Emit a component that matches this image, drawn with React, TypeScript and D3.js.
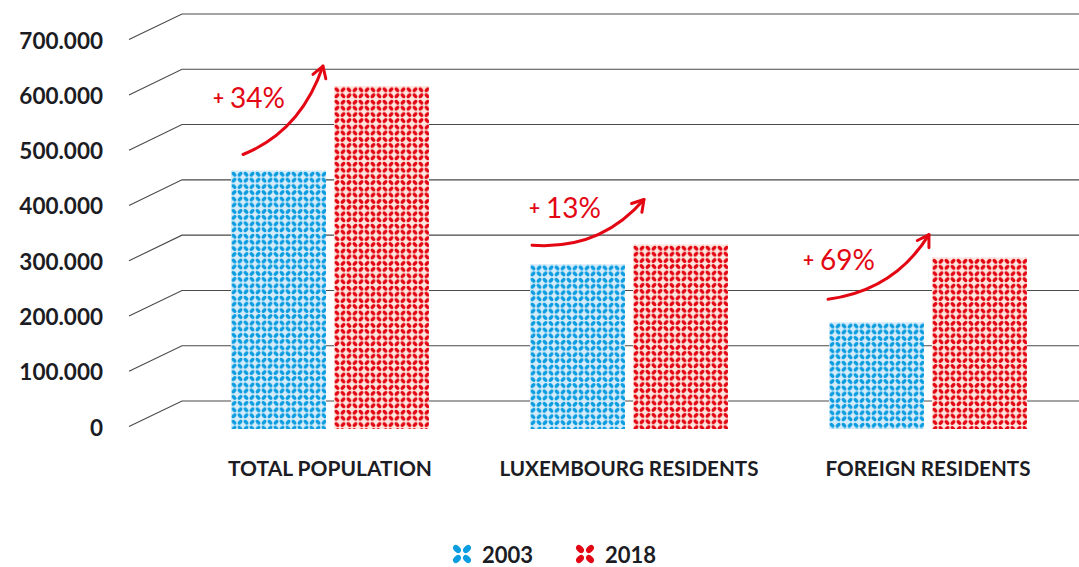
import React from 'react';
import * as d3 from 'd3';

const categories = ['TOTAL POPULATION', 'LUXEMBOURG RESIDENTS', 'FOREIGN RESIDENTS'];
const years = ['2003', '2018'];
const values2003 = [448000, 277000, 171000];
const values2018 = [602000, 313000, 289000];
const growthLabels = ['34%', '13%', '69%'];
const yTicks = [0, 100000, 200000, 300000, 400000, 500000, 600000, 700000];

// arrow geometry as offsets from the bars they link
const arrowOffsets = [
  { sdx: 12, sdy: -16, edx: -11, edy: -20, cx: 0.72, cy: 0.26, ldx: -30, ldy: -46 },
  { sdx: 2, sdy: -19, edx: 11, edy: -45, cx: 0.61, cy: -0.11, ldx: -3, ldy: -27 },
  { sdx: -1, sdy: -23, edx: -3, edy: -23, cx: 0.66, cy: 0.14, ldx: -25, ldy: -29 },
];

const W = 1079;
const H = 567;
const FONT = "Lato, 'Open Sans', sans-serif";
const RED = '#e30613';
const BLUE = '#0b9de0';
const colors: Record<string, { fg: string; bg: string }> = {
  '2003': { fg: BLUE, bg: '#d4ebfa' },
  '2018': { fg: RED, bg: '#fde5dd' },
};

const labelWidths = [204, 259, 205];

function Petals({ cx, cy, q, fill, rx, ry }: any) {
  const pts = [
    [-q, -q, 45],
    [q, -q, -45],
    [-q, q, -45],
    [q, q, 45],
  ];
  return (
    <g>
      {pts.map((p, i) => (
        <ellipse
          key={i}
          cx={cx + p[0]}
          cy={cy + p[1]}
          rx={rx}
          ry={ry}
          fill={fill}
          transform={`rotate(${p[2]} ${cx + p[0]} ${cy + p[1]})`}
        />
      ))}
    </g>
  );
}

export default function App() {
  const yGrid = d3.scaleLinear().domain([0, 700000]).range([401, 14]);
  const yBar = d3.scaleLinear().domain([0, 700000]).range([416, 32.4]);
  const barBottom = yBar(0) + 13;

  const x0 = d3.scaleBand<string>().domain(categories).range([180.5, 1077.5]).paddingInner(0.338).paddingOuter(0.169);
  const x1 = d3.scaleBand<string>().domain(years).range([0, x0.bandwidth()]).paddingInner(0.077);

  const fmt = (v: number) => d3.format(',')(v).replace(/,/g, '.');

  const tileW = 12;
  const tileH = 12.4;

  const bars: any[] = [];
  categories.forEach((c, i) => {
    years.forEach((yr) => {
      const v = yr === '2003' ? values2003[i] : values2018[i];
      bars.push({ c, i, yr, v, x: (x0(c) as number) + (x1(yr) as number), y: yBar(v), w: x1.bandwidth() });
    });
  });

  return (
    <svg width={W} height={H} style={{ position: 'absolute', left: 0, top: 0, background: '#fff' }}>
      <defs>
        {bars.map((b, k) => (
          <pattern
            key={k}
            id={`pat${k}`}
            patternUnits="userSpaceOnUse"
            x={b.x}
            y={b.y + 0.5}
            width={tileW}
            height={tileH}
          >
            <rect width={tileW} height={tileH} fill={colors[b.yr].bg} />
            <Petals cx={tileW / 2} cy={tileH / 2} q={3} fill={colors[b.yr].fg} rx={2.8} ry={1.75} />
          </pattern>
        ))}
      </defs>

      {/* grid */}
      {yTicks.map((t) => {
        const y = yGrid(t);
        return (
          <g key={t}>
            <path
              d={`M129,${y + 25.6} L182,${y} L${W},${y}`}
              fill="none"
              stroke="#4a4a4a"
              strokeWidth={1.1}
            />
            <text
              x={103}
              y={y + 34.5}
              textAnchor="end"
              fontFamily={FONT}
              fontWeight={700}
              fontSize={22.5}
              fill="#1c1c24"
            >
              {fmt(t)}
            </text>
          </g>
        );
      })}

      {/* bars */}
      {bars.map((b, k) => (
        <rect key={k} x={b.x} y={b.y} width={b.w} height={barBottom - b.y} fill={`url(#pat${k})`} />
      ))}

      {/* category labels */}
      {categories.map((c, i) => (
        <text
          key={c}
          x={(x0(c) as number) + x0.bandwidth() / 2}
          y={476}
          textAnchor="middle"
          fontFamily={FONT}
          fontWeight={700}
          fontSize={21}
          fill="#1c1c24"
          textLength={labelWidths[i]}
          lengthAdjust="spacingAndGlyphs"
        >
          {c}
        </text>
      ))}

      {/* growth arrows */}
      {categories.map((c, i) => {
        const o = arrowOffsets[i];
        const xa = (x0(c) as number) + (x1('2003') as number);
        const xb = (x0(c) as number) + (x1('2018') as number);
        const sx = xa + o.sdx;
        const sy = yBar(values2003[i]) + o.sdy;
        const ex = xb + o.edx;
        const ey = yBar(values2018[i]) + o.edy;
        const cx = sx + (ex - sx) * o.cx;
        const cy = sy + (ey - sy) * o.cy;
        const ang = Math.atan2(ey - cy, ex - cx);
        const hl = 13;
        const spread = 0.55;
        const h1x = ex - hl * Math.cos(ang - spread);
        const h1y = ey - hl * Math.sin(ang - spread);
        const h2x = ex - hl * Math.cos(ang + spread);
        const h2y = ey - hl * Math.sin(ang + spread);
        const lx = sx + o.ldx;
        const ly = sy + o.ldy;
        return (
          <g key={c}>
            <path
              d={`M${sx},${sy} Q${cx},${cy} ${ex},${ey}`}
              fill="none"
              stroke={RED}
              strokeWidth={3}
              strokeLinecap="round"
            />
            <path
              d={`M${h1x},${h1y} L${ex},${ey} L${h2x},${h2y}`}
              fill="none"
              stroke={RED}
              strokeWidth={3}
              strokeLinecap="round"
              strokeLinejoin="round"
            />
            <text x={lx} y={ly - 3} fontFamily={FONT} fontWeight={700} fontSize={19} fill={RED}>
              +
            </text>
            <text x={lx + 17} y={ly} fontFamily={FONT} fontWeight={400} fontSize={28} fill={RED}>
              {growthLabels[i]}
            </text>
          </g>
        );
      })}

      {/* legend */}
      {years.map((yr, i) => {
        const ix = 462 + i * 123;
        return (
          <g key={yr}>
            <Petals cx={ix} cy={554} q={5} fill={colors[yr].fg} rx={4.6} ry={3.1} />
            <text x={ix + 20} y={563} fontFamily={FONT} fontWeight={700} fontSize={22} fill="#1c1c24">
              {yr}
            </text>
          </g>
        );
      })}
    </svg>
  );
}
